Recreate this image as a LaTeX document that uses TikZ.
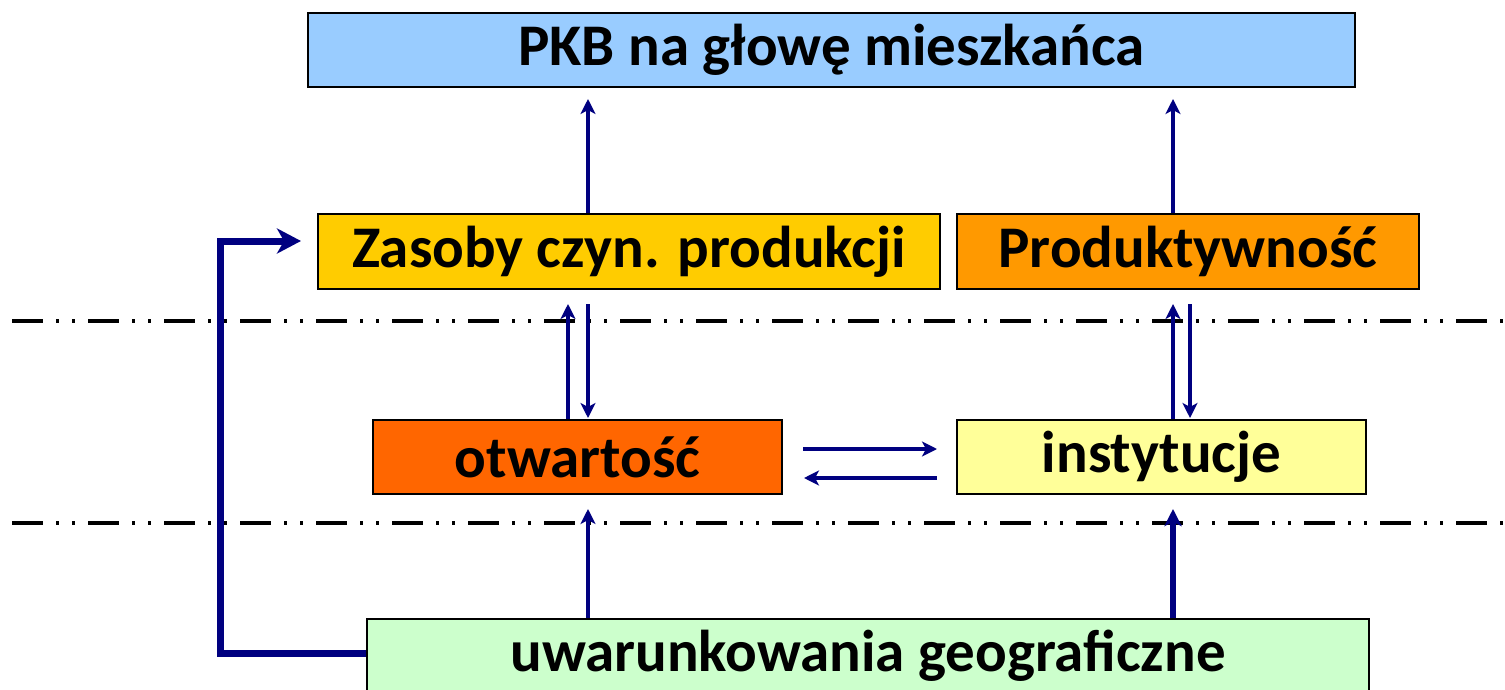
\documentclass[tikz,border=0pt]{standalone}
\usepackage{fontspec}
\setmainfont{Carlito}
\usetikzlibrary{arrows.meta}
\definecolor{navy}{HTML}{000080}
\definecolor{cpkb}{HTML}{99CCFF}
\definecolor{czas}{HTML}{FFCC00}
\definecolor{cprod}{HTML}{FF9900}
\definecolor{cotw}{HTML}{FF6600}
\definecolor{cins}{HTML}{FFFF99}
\definecolor{cgeo}{HTML}{CCFFCC}
\tikzset{
  box/.style={draw=black, line width=2pt, inner sep=0pt, font=\fontsize{59}{62}\selectfont\bfseries},
  arr/.style={draw=navy, line width=3.3pt, -{Stealth[length=15pt,width=15pt,inset=4pt]}},
  arrm/.style={arr, line width=4pt},
  arrk/.style={draw=navy, line width=6pt, -{Stealth[length=17pt,width=17pt,inset=4pt]}},
  feed/.style={draw=navy, line width=7pt, -{Stealth[length=24pt,width=25pt,inset=7pt]}},
  sep/.style={draw=black, line width=4pt, dash pattern=on 31pt off 13pt on 3pt off 13pt on 3pt off 13pt}
}
\begin{document}
\begin{tikzpicture}[x=1pt,y=-1pt]
\useasboundingbox (0,0) rectangle (1505,690);
\node[box, fill=cpkb, minimum width=1047pt, minimum height=74pt] (pkb) at (831.5,50) {PKB na głowę mieszkańca};
\node[box, fill=czas, minimum width=622pt, minimum height=75pt] (zas) at (629,251.5) {Zasoby czyn. produkcji};
\node[box, fill=cprod, minimum width=462pt, minimum height=75pt] (prod) at (1188,251.5) {Produktywność};
\node[box, fill=cotw, minimum width=409pt, minimum height=74pt] (otw) at (577.5,457) {otwartość};
\node[box, fill=cins, minimum width=409pt, minimum height=74pt] (ins) at (1161.5,457) {instytucje};
\node[box, fill=cgeo, minimum width=1002pt, minimum height=74pt] (geo) at (868,656) {uwarunkowania geograficzne};
\coordinate (l1a) at (12,321);
\coordinate (l1b) at (1505,321);
\coordinate (l2a) at (12,523);
\coordinate (l2b) at (1505,523);
\draw[sep] (l1a) -- (l1b);
\draw[sep] (l2a) -- (l2b);
\coordinate (xa) at (588,0);
\coordinate (xb) at (568,0);
\coordinate (xc) at (1173,0);
\coordinate (xd) at (1190,0);
\coordinate (ya) at (0,449);
\coordinate (yb) at (0,478);
\draw[arr, shorten >=11pt] (xa |- zas.north) -- (xa |- pkb.south);
\draw[arr, shorten >=11pt] (xc |- prod.north) -- (xc |- pkb.south);
\draw[arr, shorten >=14pt] (xb |- otw.north) -- (xb |- zas.south);
\draw[arr, shorten <=14pt, shorten >=1pt] (xa |- zas.south) -- (xa |- otw.north);
\draw[arr, shorten >=14pt] (xc |- ins.north) -- (xc |- prod.south);
\draw[arr, shorten <=14pt, shorten >=1pt] (xd |- prod.south) -- (xd |- ins.north);
\draw[arr, shorten <=20pt, shorten >=19pt] (otw.east |- ya) -- (ins.west |- ya);
\draw[arr, shorten <=19pt, shorten >=21pt] (ins.west |- yb) -- (otw.east |- yb);
\draw[arrm, shorten >=14pt] (xa |- geo.north) -- (xa |- otw.south);
\draw[arrk, shorten >=14pt] (xc |- geo.north) -- (xc |- ins.south);
\draw[feed, shorten >=16pt] ([yshift=3pt]geo.west) -- ++(-146,0) |- ([yshift=10.5pt]zas.west);
\end{tikzpicture}
\end{document}
